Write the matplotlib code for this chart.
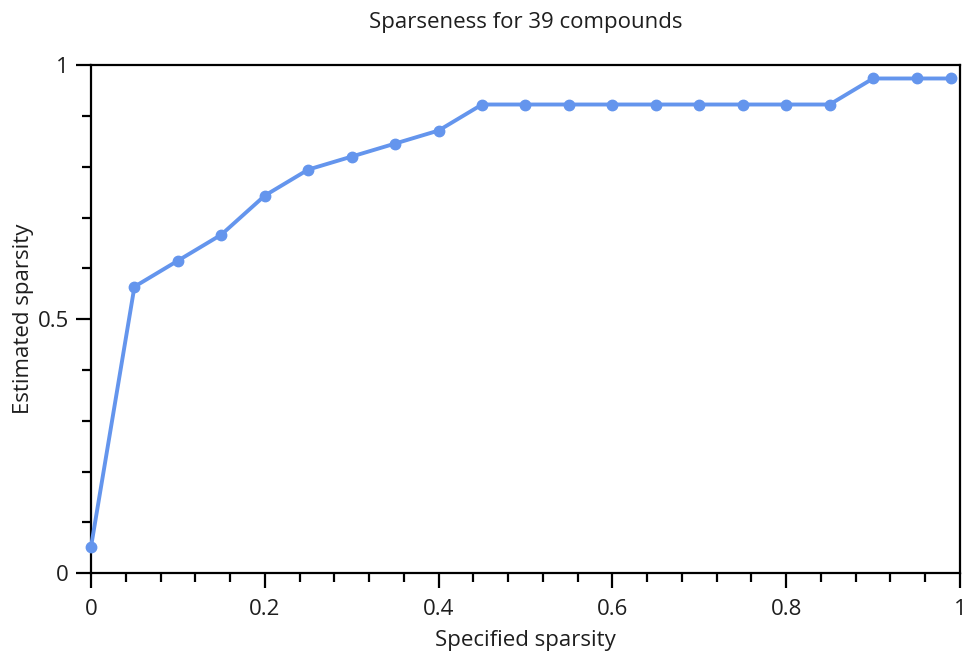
import matplotlib
matplotlib.use("Agg")
import matplotlib.pyplot as plt
from matplotlib.ticker import MultipleLocator, FuncFormatter

plt.rcParams['font.family'] = ['Open Sans', 'DejaVu Sans']

specified = [0, 0.05, 0.1, 0.15, 0.2, 0.25, 0.3, 0.35, 0.4, 0.45, 0.5,
             0.55, 0.6, 0.65, 0.7, 0.75, 0.8, 0.85, 0.9, 0.95, 0.99]
estimated = [2/39, 22/39, 24/39, 26/39, 29/39, 31/39, 32/39, 33/39, 34/39,
             36/39, 36/39, 36/39, 36/39, 36/39, 36/39, 36/39, 36/39, 36/39,
             38/39, 38/39, 38/39]

text_col = '#1e1e1e'

fig = plt.figure(figsize=(9.69, 6.66), dpi=100)
ax = fig.add_axes([0.0939, 0.1396, 0.8968, 0.7621])

ax.plot(specified, estimated, color='#6495ED', lw=2.8, marker='o', ms=7.5,
        clip_on=False, zorder=3)

ax.set_xlim(0, 1)
ax.set_ylim(0, 1)

ax.xaxis.set_major_locator(MultipleLocator(0.2))
ax.xaxis.set_minor_locator(MultipleLocator(0.04))
ax.yaxis.set_major_locator(MultipleLocator(0.5))
ax.yaxis.set_minor_locator(MultipleLocator(0.1))

fmt = FuncFormatter(lambda v, p: ('%.2f' % v).rstrip('0').rstrip('.'))
ax.xaxis.set_major_formatter(fmt)
ax.yaxis.set_major_formatter(fmt)

ax.tick_params(which='major', length=11, width=1.6, labelsize=16, color='black',
               labelcolor=text_col)
ax.tick_params(axis='x', which='major', pad=8)
ax.tick_params(axis='y', which='major', pad=5)
ax.tick_params(which='minor', length=6.5, width=1.6, color='black')
for s in ax.spines.values():
    s.set_linewidth(1.6)

ax.set_title('Sparseness for 39 compounds', fontsize=16, color=text_col, pad=27)
ax.set_xlabel('Specified sparsity', fontsize=16, color=text_col)
ax.set_ylabel('Estimated sparsity', fontsize=16, color=text_col)
ax.xaxis.set_label_coords(0.5, -0.113)
ax.yaxis.set_label_coords(-0.066, 0.5)

fig.savefig('out.png', dpi=100)
